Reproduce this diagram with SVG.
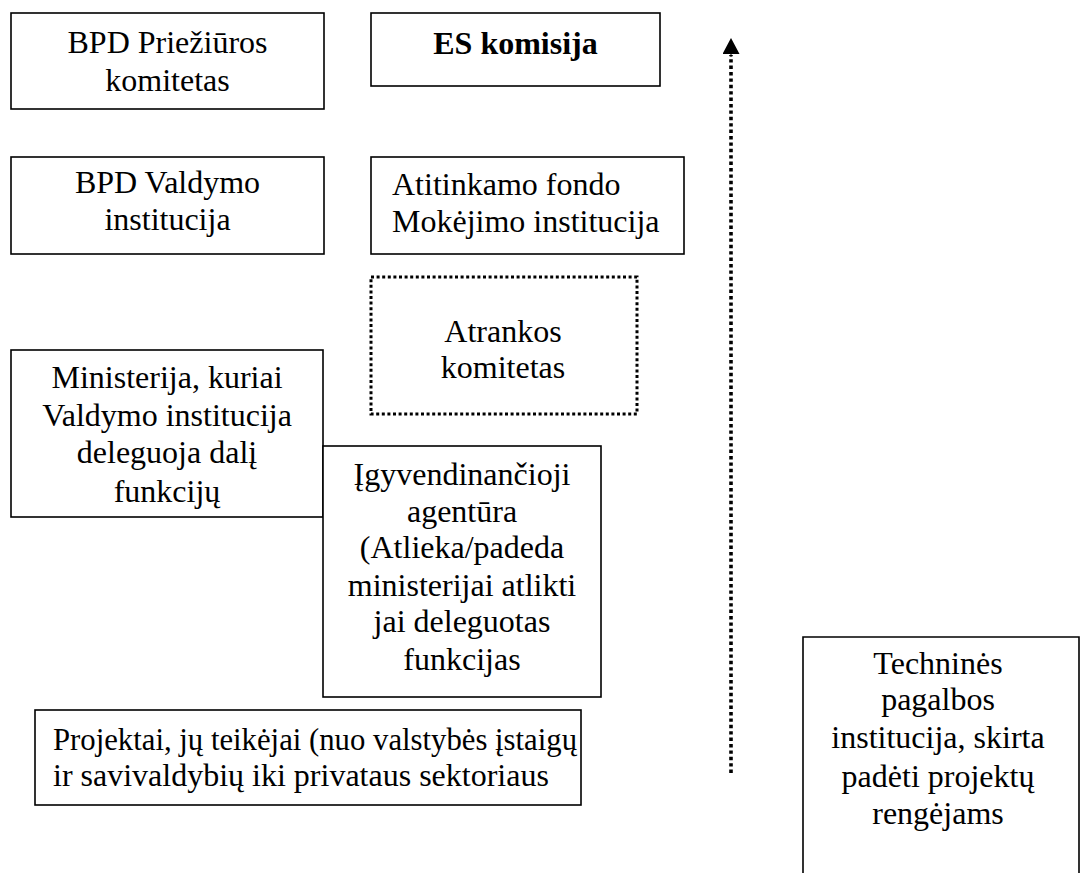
<svg xmlns="http://www.w3.org/2000/svg" width="1082" height="873" viewBox="0 0 1082 873">
  <style>
    .box { fill: #ffffff; stroke: #000000; stroke-width: 1.6; }
    .dotted { fill: #ffffff; stroke: #000000; stroke-width: 3; stroke-dasharray: 3 2.6; }
    text { font-family: "Liberation Serif", "Times New Roman", serif; font-size: 32px; fill: #000000; }
    .c { text-anchor: middle; }
    .b { font-weight: bold; }
  </style>
  <defs>
    <!-- solid triangular head, drawn along +x so it follows the line direction -->
    <marker id="arrowHead" viewBox="0 0 16 17" refX="0" refY="8.5" markerWidth="16" markerHeight="17" markerUnits="userSpaceOnUse" orient="auto">
      <path d="M0,0 L16,8.5 L0,17 Z" fill="#000000"/>
    </marker>
  </defs>

  <g id="bpd-prieziuros">
    <rect class="box" x="11" y="13" width="313" height="96"/>
    <text class="c" x="167.5" y="53">BPD Priežiūros</text>
    <text class="c" x="167.5" y="91">komitetas</text>
  </g>

  <g id="es-komisija">
    <rect class="box" x="371" y="13" width="289" height="73"/>
    <text class="c b" x="515.5" y="54">ES komisija</text>
  </g>

  <g id="bpd-valdymo">
    <rect class="box" x="11" y="157" width="313" height="97"/>
    <text class="c" x="167.5" y="193">BPD Valdymo</text>
    <text class="c" x="167.5" y="230">institucija</text>
  </g>

  <g id="mokejimo-institucija">
    <rect class="box" x="371" y="157" width="313" height="97"/>
    <text x="392" y="195">Atitinkamo fondo</text>
    <text x="392" y="232">Mokėjimo institucija</text>
  </g>

  <g id="atrankos-komitetas">
    <rect class="dotted" x="371" y="277" width="266" height="137"/>
    <text class="c" x="503" y="342">Atrankos</text>
    <text class="c" x="503" y="378">komitetas</text>
  </g>

  <g id="ministerija">
    <rect class="box" x="11" y="350" width="312" height="167"/>
    <text class="c" x="167" y="388">Ministerija, kuriai</text>
    <text class="c" x="167" y="426">Valdymo institucija</text>
    <text class="c" x="167" y="463">deleguoja dalį</text>
    <text class="c" x="167" y="502">funkcijų</text>
  </g>

  <g id="igyvendinancioji-agentura">
    <rect class="box" x="323" y="446" width="278" height="251"/>
    <text class="c" x="462" y="485">Įgyvendinančioji</text>
    <text class="c" x="462" y="522">agentūra</text>
    <text class="c" x="462" y="558">(Atlieka/padeda</text>
    <text class="c" x="462" y="596">ministerijai atlikti</text>
    <text class="c" x="462" y="632">jai deleguotas</text>
    <text class="c" x="462" y="670">funkcijas</text>
  </g>

  <g id="projektai">
    <rect class="box" x="35" y="710" width="546" height="95"/>
    <text x="53" y="750" textLength="524" lengthAdjust="spacingAndGlyphs">Projektai, jų teikėjai (nuo valstybės įstaigų</text>
    <text x="53" y="786">ir savivaldybių iki privataus sektoriaus</text>
  </g>

  <g id="technines-pagalbos">
    <path class="box" fill="none" d="M803,880 L803,637 L1079,637 L1079,880"/>
    <text class="c" x="938" y="674">Techninės</text>
    <text class="c" x="938" y="710">pagalbos</text>
    <text class="c" x="938" y="748">institucija, skirta</text>
    <text class="c" x="938" y="787">padėti projektų</text>
    <text class="c" x="938" y="824">rengėjams</text>
  </g>

  <g id="connectors">
    <line x1="731" y1="773" x2="731" y2="55" stroke="#000000" stroke-width="3.6" stroke-dasharray="3.4 3"/>
    <line x1="731" y1="57" x2="731" y2="54" stroke="#000000" stroke-width="1" marker-end="url(#arrowHead)"/>
  </g>
</svg>
